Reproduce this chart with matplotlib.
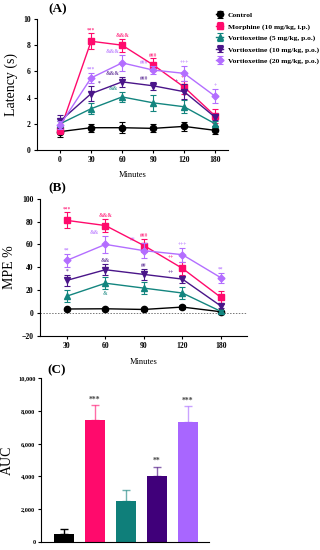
import matplotlib
matplotlib.use("Agg")
import matplotlib.pyplot as plt
from matplotlib.ticker import FuncFormatter
import numpy as np

plt.rcParams['font.family'] = ['Liberation Serif', 'DejaVu Serif']
plt.rcParams['font.weight'] = 'bold'
plt.rcParams['axes.linewidth'] = 0.8

groups = ["Control", "Morphine (10 mg/kg, i.p.)",
          "Vortioxetine (5 mg/kg, p.o.)",
          "Vortioxetine (10 mg/kg, p.o.)",
          "Vortioxetine (20 mg/kg, p.o.)"]
colors = ["#000000", "#FF0A6C", "#13857F", "#4A1589", "#B36EFF"]
bar_colors = ["#000000", "#FF0A6C", "#0F7F7A", "#40007A", "#A866FF"]
markers = ["o", "s", "^", "v", "D"]

# (A) latency
minutes_a = ["0", "30", "60", "90", "120", "180"]
lat_control = [1.4, 1.7, 1.7, 1.65, 1.8, 1.5]
lat_morph = [1.5, 8.3, 8.0, 6.5, 4.8, 2.6]
lat_v5 = [2.0, 3.15, 4.05, 3.6, 3.3, 2.0]
lat_v10 = [2.2, 4.3, 5.2, 4.9, 4.45, 2.5]
lat_v20 = [1.9, 5.5, 6.65, 6.1, 5.85, 4.1]
lat_err_control = [0.4, 0.3, 0.4, 0.3, 0.35, 0.3]
lat_err_morph = [0.3, 0.6, 0.5, 0.5, 0.5, 0.55]
lat_err_v5 = [0.2, 0.4, 0.4, 0.6, 0.5, 0.2]
lat_err_v10 = [0.5, 0.55, 0.4, 0.3, 0.55, 0.2]
lat_err_v20 = [0.3, 0.4, 0.6, 0.3, 0.55, 0.55]
lat_marks = {
    1: [("***", 1), ("&&&", 2), ("###", 3), ("++", 4)],
    2: [("&&", 2)],
    3: [("*", 1), ("&&&", 2), ("###", 3), ("+", 4)],
    4: [("***", 1), ("&&&", 2), ("###", 3), ("+++", 4), ("+", 5)],
}

# (B) MPE %
minutes_b = ["30", "60", "90", "120", "180"]
mpe_control = [3.4, 3.6, 3.0, 5.1, 1.0]
mpe_morph = [81, 76.5, 59, 39, 13.6]
mpe_v5 = [14.7, 26, 21.7, 17.4, 1.3]
mpe_v10 = [28.5, 37.8, 33.7, 29.6, 6]
mpe_v20 = [46, 60, 54.5, 51, 30.8]
mpe_err_control = [1, 1, 1, 1.5, 1]
mpe_err_morph = [7, 6, 6, 6, 6]
mpe_err_v5 = [5, 5, 5.5, 5, 1]
mpe_err_v10 = [5, 5, 4.5, 3, 2]
mpe_err_v20 = [6, 7.5, 6.5, 6, 4.5]
mpe_marks = {
    1: [("***", 0), ("&&&", 1), ("###", 2), ("++", 3)],
    2: [("&", 1)],
    3: [("*", 0), ("&&", 1), ("##", 2), ("++", 3)],
    4: [("**", 0), ("&&", 1), ("##", 2), ("+++", 3), ("**", 4)],
}

# (C) AUC
auc = [470, 7450, 2500, 4030, 7310]
auc_err = [300, 900, 650, 570, 960]
auc_marks = ["", "***", "", "**", "***"]

fig = plt.figure(figsize=(3.2, 5.5), dpi=100)

def style_axes(ax):
    for s in ["top", "right"]:
        ax.spines[s].set_visible(False)
    ax.tick_params(labelsize=5.5, width=0.8, length=2.5, pad=2)

def draw_lines(ax, series, errs):
    x = np.arange(len(series[0]))
    for i in [0, 2, 3, 4, 1]:
        ax.errorbar(x, series[i], yerr=errs[i], color=colors[i], marker=markers[i],
                    ms=4.5 if markers[i] != "D" else 3.5, lw=1.0, elinewidth=0.8,
                    capsize=2.5, capthick=0.8, label=groups[i], zorder=3 + i)
    return x

# Panel A
axA = fig.add_axes([0.116, 0.7273, 0.597, 0.2382])
style_axes(axA)
a_series = [lat_control, lat_morph, lat_v5, lat_v10, lat_v20]
a_errs = [lat_err_control, lat_err_morph, lat_err_v5, lat_err_v10, lat_err_v20]
xa = draw_lines(axA, a_series, a_errs)
a_offs = {(3, 1): 0.25, (3, 4): -0.25, (4, 2): -0.3, (4, 3): -0.3,
          (3, 2): -0.3, (3, 3): -0.3, (2, 2): -0.3}
for i, lst in lat_marks.items():
    for txt, j in lst:
        dx = a_offs.get((i, j), 0)
        axA.text(xa[j] + dx, a_series[i][j] + a_errs[i][j] + 0.05, txt,
                 color=colors[i], fontsize=4, ha="center", va="bottom", alpha=0.8)
axA.set_xlim(-0.74, 5.42)
axA.set_ylim(0, 10)
axA.set_xticks(xa)
axA.set_xticklabels(minutes_a)
axA.set_yticks([0, 2, 4, 6, 8, 10])
axA.set_xlabel("Minutes", fontsize=6, labelpad=5)
axA.set_ylabel("Latency (s)", fontsize=10, labelpad=4)
axA.text(0.06, 1.03, "(A)", transform=axA.transAxes, fontsize=9.5, va="bottom")

handles, labels = axA.get_legend_handles_labels()
order = [labels.index(g) for g in groups]
fig.legend([handles[k] for k in order], [labels[k] for k in order],
           loc="upper left", bbox_to_anchor=(0.665, 0.984), frameon=False,
           fontsize=5.4, handlelength=1.0, handletextpad=0.6, labelspacing=0.65,
           borderaxespad=0)

# Panel B
axB = fig.add_axes([0.125, 0.3896, 0.647, 0.2491])
style_axes(axB)
b_series = [mpe_control, mpe_morph, mpe_v5, mpe_v10, mpe_v20]
b_errs = [mpe_err_control, mpe_err_morph, mpe_err_v5, mpe_err_v10, mpe_err_v20]
xb = draw_lines(axB, b_series, b_errs)
b_offs = {(4, 1): -0.3, (4, 2): -0.3, (3, 3): -0.3, (1, 3): -0.3}
for i, lst in mpe_marks.items():
    for txt, j in lst:
        if i == 2:
            y = b_series[i][j] - b_errs[i][j] - 6
        else:
            y = b_series[i][j] + b_errs[i][j] + 1
        dx = b_offs.get((i, j), 0)
        axB.text(xb[j] + dx, y, txt, color=colors[i], fontsize=4,
                 ha="center", va="bottom", alpha=0.8)
axB.axhline(0, color="#777777", lw=0.7, ls=(0, (1.5, 1.5)), zorder=1)
axB.set_xlim(-0.70, 4.68)
axB.set_ylim(-20, 100)
axB.set_xticks(xb)
axB.set_xticklabels(minutes_b)
axB.set_yticks([-20, 0, 20, 40, 60, 80, 100])
axB.set_xlabel("Minutes", fontsize=6, labelpad=6)
axB.set_ylabel("MPE %", fontsize=10, labelpad=4)
axB.text(0.04, 1.03, "(B)", transform=axB.transAxes, fontsize=9.5, va="bottom")

# Panel C
axC = fig.add_axes([0.128, 0.0145, 0.525, 0.2982])
style_axes(axC)
axC.tick_params(labelsize=4.6, pad=1.5)
xc = np.arange(len(auc))
for i in range(len(auc)):
    axC.bar(xc[i], auc[i], width=0.65, color=bar_colors[i], zorder=2)
    axC.errorbar(xc[i], auc[i], yerr=[[0], [auc_err[i]]],
                 color=bar_colors[i] if i else "#000000",
                 alpha=0.6 if i else 1, elinewidth=1.0, capsize=3, capthick=1.0, zorder=1)
    if auc_marks[i]:
        axC.text(xc[i], auc[i] + auc_err[i] + 80, auc_marks[i], ha="center",
                 va="bottom", fontsize=5.5, color="#444444")
axC.set_xlim(-0.74, 4.68)
axC.set_ylim(0, 10000)
axC.set_xticks([])
axC.set_yticks([0, 2000, 4000, 6000, 8000, 10000])
axC.yaxis.set_major_formatter(FuncFormatter(lambda v, p: f"{int(v):,}"))
axC.set_ylabel("AUC", fontsize=10, labelpad=3)
axC.text(0.04, 1.01, "(C)", transform=axC.transAxes, fontsize=9.5, va="bottom")

fig.savefig("out.png", dpi=100)
